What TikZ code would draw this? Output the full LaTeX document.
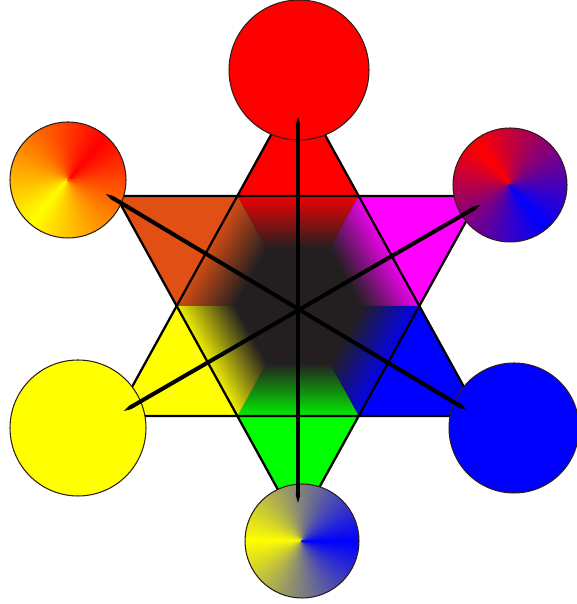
\documentclass[tikz,border=0pt]{standalone}
\usepackage{tikz}
\usetikzlibrary{
    arrows.meta
}
\definecolor{ink}{RGB}{0,0,0}
\definecolor{core}{RGB}{35,31,32}
\definecolor{discedge}{RGB}{45,30,25}
\definecolor{tonered}{RGB}{255,0,0}
\definecolor{tonemagenta}{RGB}{255,0,255}
\definecolor{toneblue}{RGB}{0,0,255}
\definecolor{tonegreen}{RGB}{0,255,0}
\definecolor{toneyellow}{RGB}{255,255,0}
\definecolor{toneorange}{RGB}{224,80,20}
\colorlet{sectortone}{tonered}
% fade from the dark middle out to the tone of each point
\pgfdeclareverticalshading[sectortone,core]{sectorfade}{100bp}{%
    color(0bp)=(core); color(25bp)=(core); color(51bp)=(core);
    color(75bp)=(sectortone); color(100bp)=(sectortone)}
\tikzset{
    line cap=round,
    line join=round,
    starline/.style={
        draw=ink,
        line width=1.3pt
    },
    sector/.style={
        shading=sectorfade
    },
    disc/.style={
        circle,
        draw=discedge,
        line width=0.6pt,
        inner sep=0pt
    },
    conic/.style n args={3}{
        path picture={
            \foreach \a in {0,2,...,358} {
                \pgfmathsetmacro\mix{100-abs(mod(\a+1-#1+540,360)-180)/1.8}
                \filldraw[#2!\mix!#3, line width=0.5pt] (path picture bounding box.center) -- ++(\a:2cm)
                    arc[start angle=\a, end angle=\a+2.8, radius=2cm] -- cycle;
            }
        }
    },
    axisline/.style={
        draw=ink,
        line width=2.3pt,
        arrows={Triangle Cap[length=4pt]-Triangle Cap[length=4pt]}
    }
}

\begin{document}
\begin{tikzpicture}[x=0.02cm, y=0.02cm]
\useasboundingbox (0,0) rectangle (576,604);

% Star corners and inner hexagon
\coordinate (O) at (298,298);
\coordinate (A) at (298,518);
\coordinate (B) at (116,188);
\coordinate (C) at (480,188);
\coordinate (D) at (298,78);
\coordinate (E) at (116,408);
\coordinate (F) at (480,408);
\coordinate (h0) at (419.3,298);
\coordinate (h60) at (358.6,408);
\coordinate (h120) at (237.4,408);
\coordinate (h180) at (176.7,298);
\coordinate (h240) at (237.4,188);
\coordinate (h300) at (358.6,188);

\fill[tonered] (A) -- (h60) -- (h120) -- cycle;
\fill[tonemagenta] (F) -- (h0) -- (h60) -- cycle;
\fill[toneblue] (C) -- (h300) -- (h0) -- cycle;
\fill[tonegreen] (D) -- (h240) -- (h300) -- cycle;
\fill[toneyellow] (B) -- (h180) -- (h240) -- cycle;
\fill[toneorange] (E) -- (h120) -- (h180) -- cycle;

\fill[core] (h0) -- (h60) -- (h120) -- (h180) -- (h240) -- (h300) -- cycle;
\foreach \ang/\tone in {90/tonered, 30/tonemagenta, -30/toneblue, -90/tonegreen, -150/toneyellow, 150/toneorange} {
    \colorlet{sectortone}{\tone!92!core}
    \begin{scope}[transform canvas={shift={(298,298)}, xscale=0.955, rotate=\ang-90}]
        \shade[sector] (0,0) -- (60:127) -- (120:127) -- cycle;
    \end{scope}
}

\draw[starline] (A) -- (B) -- (C) -- cycle;
\draw[starline] (D) -- (E) -- (F) -- cycle;

% Discs
\node[disc, minimum size=2.8cm, fill=tonered] (topdisc) at (299,534) {};
\node[disc, minimum size=2.32cm, conic={50}{tonered}{toneyellow}] (leftupdisc) at (68,424) {};
\node[disc, minimum size=2.28cm, conic={130}{tonered}{toneblue}] (rightupdisc) at (510,419) {};
\node[disc, minimum size=2.72cm, fill=toneyellow] (leftdowndisc) at (78,176) {};
\node[disc, minimum size=2.6cm, fill=toneblue] (rightdowndisc) at (514,176) {};
\node[disc, minimum size=2.28cm, conic={180}{toneyellow}{toneblue}] (bottomdisc) at (302,63) {};

% Axes through the middle
\coordinate (topend) at (298,487);
\coordinate (bottomend) at (298,101);
\coordinate (leftupend) at (106,410);
\coordinate (rightdownend) at (467,194);
\coordinate (leftdownend) at (124,193);
\coordinate (rightupend) at (480,399);

\draw[axisline] (topend) -- (bottomend);
\draw[axisline] (leftupend) -- (rightdownend);
\draw[axisline] (leftdownend) -- (rightupend);

\end{tikzpicture}
\end{document}
